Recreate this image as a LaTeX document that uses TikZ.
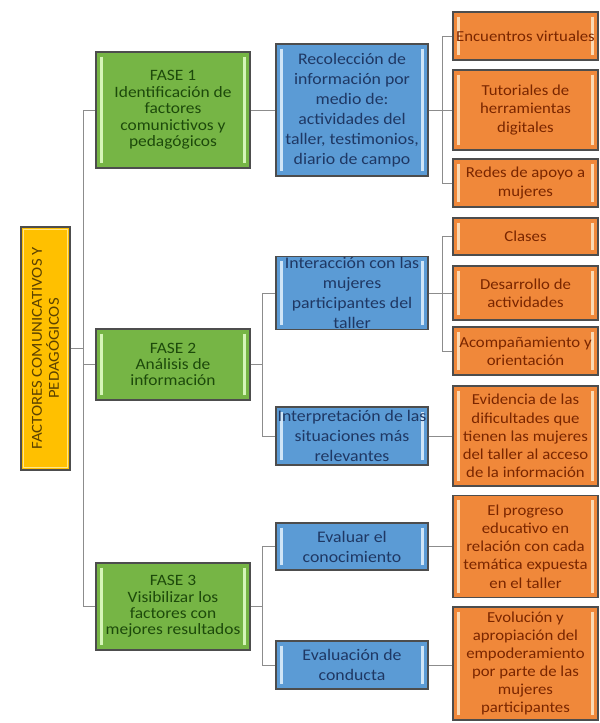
\documentclass[tikz,border=0pt]{standalone}
\usepackage{fontspec}
\setmainfont{Carlito}[FakeStretch=1.1]
\usetikzlibrary{calc}
\definecolor{boxline}{HTML}{4D4D4D}
\definecolor{linkgray}{HTML}{8C8C8C}
\definecolor{yelfill}{HTML}{FFC000}
\definecolor{yellight}{HTML}{FFE58A}
\definecolor{yeltext}{HTML}{5C4200}
\definecolor{grnfill}{HTML}{76B545}
\definecolor{grnlight}{HTML}{D6F5B8}
\definecolor{grntext}{HTML}{1D4A0B}
\definecolor{blufill}{HTML}{5B9BD5}
\definecolor{blulight}{HTML}{CFE5F7}
\definecolor{blutext}{HTML}{1F3864}
\definecolor{orgfill}{HTML}{F0883A}
\definecolor{orglight}{HTML}{FBD9B3}
\definecolor{orgtext}{HTML}{7A2600}
\tikzset{
  caja/.style n args={3}{draw=boxline, line width=0.9pt, fill=#1, text=#3,
    align=center, inner sep=1pt,
    path picture={
      \draw[#2, line width=2.6pt]
        ($(path picture bounding box.north west)+(5pt,-4pt)$) --
        ($(path picture bounding box.south west)+(5pt,4pt)$);
      \draw[#2, line width=2.6pt]
        ($(path picture bounding box.north east)+(-5pt,-4pt)$) --
        ($(path picture bounding box.south east)+(-5pt,4pt)$);
    }},
  fase/.style={caja={grnfill}{grnlight}{grntext}, minimum width=4.62cm,
    font=\fontsize{13.5}{14}\selectfont},
  accion/.style={caja={blufill}{blulight}{blutext}, minimum width=4.56cm,
    font=\fontsize{13.8}{17}\selectfont},
  result/.style={caja={orgfill}{orglight}{orgtext}, minimum width=4.35cm,
    font=\fontsize{13}{15.5}\selectfont},
  link/.style={draw=linkgray, line width=0.8pt}
}

\begin{document}
\begin{tikzpicture}[x=0.03cm, y=-0.03cm]
		\useasboundingbox (0,0) rectangle (600,723);
		
		%%%%% TITLE %%%%%
		\node[draw=boxline, line width=0.9pt, fill=yelfill, text=yeltext, align=center, inner sep=1pt,
		      rotate=90, minimum width=7.29cm, minimum height=1.47cm,
		      font=\fontsize{13}{14.5}\selectfont] (yel) at (45.5,348.5)
		      {FACTORES COMUNICATIVOS Y\\PEDAGÓGICOS};
		\draw[yellight, line width=0.8pt] ($(yel.north west)+(2.5pt,2.5pt)$) rectangle ($(yel.south east)+(-2.5pt,-2.5pt)$);
		
		%%%%% PHASES %%%%%
		\node[fase, minimum height=3.48cm] (f1) at (173,110)
		      {FASE 1\\Identificación de\\factores\\comunictivos y\\pedagógicos};
		\node[fase, minimum height=2.13cm] (f2) at (173,364.5)
		      {FASE 2\\Análisis de\\información};
		\node[fase, minimum height=2.61cm] (f3) at (173,606.5)
		      {FASE 3\\Visibilizar los\\factores con\\mejores resultados};
		
		%%%%% ACTIONS %%%%%
		\node[accion, minimum height=3.96cm] (b1) at (352,110)
		      {Recolección de\\información por\\medio de:\\actividades del\\taller, testimonios,\\diario de campo};
		\node[accion, minimum height=1.95cm] (b2) at (352,293)
		      {Interacción con las\\mujeres\\participantes del\\taller};
		\node[accion, minimum height=1.74cm] (b3) at (352,436)
		      {Interpretación de las\\situaciones más\\relevantes};
		\node[accion, minimum height=1.41cm] (b4) at (352,546.5)
		      {Evaluar el\\conocimiento};
		\node[accion, minimum height=1.44cm] (b5) at (352,665)
		      {Evaluación de\\conducta};
		
		%%%%% RESULTS %%%%%
		\node[result, minimum height=1.44cm] (o1) at (525.5,36) {Encuentros virtuales};
		\node[result, minimum height=2.4cm] (o2) at (525.5,110) {Tutoriales de\\herramientas\\digitales};
		\node[result, minimum height=1.44cm] (o3) at (525.5,183) {Redes de apoyo a\\mujeres};
		\node[result, minimum height=1.11cm] (o4) at (525.5,236.5) {Clases};
		\node[result, minimum height=1.62cm] (o5) at (525.5,293) {Desarrollo de\\actividades};
		\node[result, minimum height=1.44cm] (o6) at (525.5,351) {Acompañamiento y\\orientación};
		\node[result, minimum height=3cm] (o7) at (525.5,436)
		      {Evidencia de las\\dificultades que\\tienen las mujeres\\del taller al acceso\\de la información};
		\node[result, minimum height=3.06cm] (o8) at (525.5,546.5)
		      {El progreso\\educativo en\\relación con cada\\temática expuesta\\en el taller};
		\node[result, minimum height=3.39cm] (o9) at (525.5,663.5)
		      {Evolución y\\apropiación del\\empoderamiento\\por parte de las\\mujeres\\participantes};
		
		%%%%% LINKS %%%%%
		\coordinate (t0) at (83,348.5);
		\draw[link] (yel.south) -- (t0);
		\foreach \f in {f1,f2,f3}
		  \draw[link] (t0) |- (\f.west);
		\draw[link] (f1.east) -- (b1.west);
		
		\coordinate (t1) at (442,110);
		\draw[link] (b1.east) -- (t1);
		\foreach \o in {o1,o2,o3}
		  \draw[link] (t1) |- (\o.west);
		
		\coordinate (t2) at (262,364.5);
		\draw[link] (f2.east) -- (t2);
		\foreach \b in {b2,b3}
		  \draw[link] (t2) |- (\b.west);
		
		\coordinate (t3) at (442,293);
		\draw[link] (b2.east) -- (t3);
		\foreach \o in {o4,o5,o6}
		  \draw[link] (t3) |- (\o.west);
		\draw[link] (b3.east) -- (b3.east -| o7.west);
		
		\coordinate (t4) at (262,606.5);
		\draw[link] (f3.east) -- (t4);
		\foreach \b in {b4,b5}
		  \draw[link] (t4) |- (\b.west);
		\draw[link] (b4.east) -- (b4.east -| o8.west);
		\draw[link] (b5.east) -- (b5.east -| o9.west);
	\end{tikzpicture}
\end{document}
